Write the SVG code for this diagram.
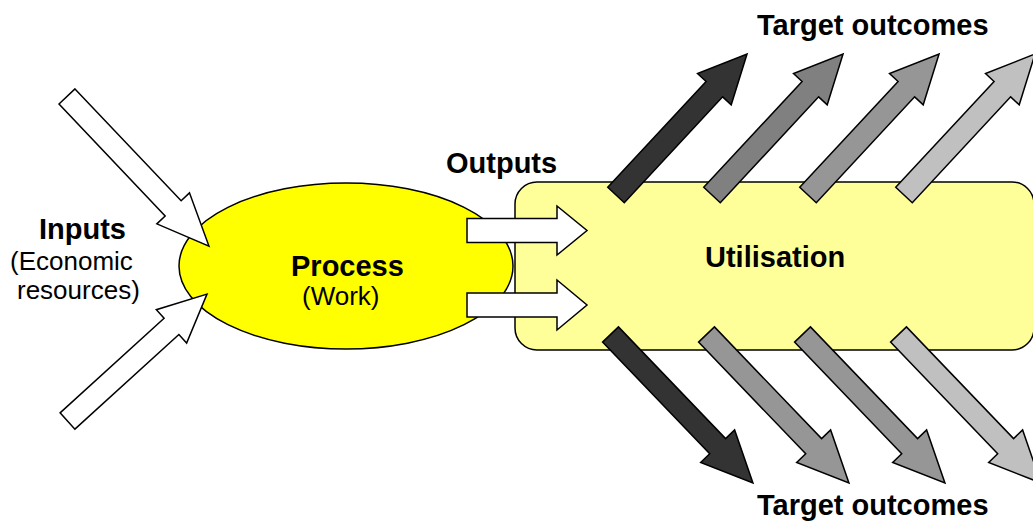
<svg xmlns="http://www.w3.org/2000/svg" width="1033" height="521" viewBox="0 0 1033 521">
<style>
.b{font-family:"Liberation Sans",Arial,sans-serif;font-weight:bold;font-size:29px;fill:#000}
.n{font-family:"Liberation Sans",Arial,sans-serif;font-size:26px;fill:#000}
.ar{stroke:#000;stroke-width:1.5;stroke-linejoin:miter}
</style>
<defs>
<polygon id="upR" points="0,-11.3 144.5,-11.3 144.5,-23 192.5,0 144.5,23 144.5,11.3 0,11.3"/>
<polygon id="dnR" points="0,-11 154.8,-11 154.8,-23.5 205.8,0 154.8,23.5 154.8,11 0,11"/>
</defs>
<rect width="1033" height="521" fill="#fff"/>
<g id="utilisation">
<rect x="515" y="182" width="519" height="168" rx="22" ry="22" fill="#ffff99" stroke="#000" stroke-width="1.5"/>
<text class="b" x="705" y="267">Utilisation</text>
</g>
<g id="process">
<ellipse cx="346" cy="266" rx="167" ry="83" fill="#ffff00" stroke="#000" stroke-width="1.5"/>
<text class="b" x="291" y="276">Process</text>
<text class="n" x="302" y="305">(Work)</text>
</g>
<g id="inputs">
<text class="b" x="39" y="239">Inputs</text>
<text class="n" x="10" y="270">(Economic</text>
<text class="n" x="17" y="299">resources)</text>
</g>
<g id="outputs-label">
<text class="b" x="446" y="173">Outputs</text>
</g>
<g id="target-top">
<text class="b" x="757" y="35">Target outcomes</text>
</g>
<g id="target-bottom">
<text class="b" x="757" y="515">Target outcomes</text>
</g>
<g id="connectors">
<polygon class="ar" fill="#fff" transform="translate(67,96.5) rotate(46.5)" points="0,-11 154.2,-11 154.2,-22.5 206.2,0 154.2,22.5 154.2,11 0,11"/>
<polygon class="ar" fill="#fff" transform="translate(67.5,421) rotate(-42.3)" points="0,-11 140.6,-11 140.6,-22.5 188.6,0 140.6,22.5 140.6,11 0,11"/>
<polygon class="ar" fill="#fff" points="467,218.5 557,218.5 557,206 587,230.5 557,255 557,242.5 467,242.5"/>
<polygon class="ar" fill="#fff" points="467,293 557,293 557,280 587,305 557,330 557,317 467,317"/>
<use href="#upR" class="ar" fill="#333333" transform="translate(616,195) rotate(-47.1)"/>
<use href="#upR" class="ar" fill="#808080" transform="translate(712,195) rotate(-47.1)"/>
<use href="#upR" class="ar" fill="#969696" transform="translate(808,195) rotate(-47.1)"/>
<use href="#upR" class="ar" fill="#c0c0c0" transform="translate(904,195) rotate(-47.1)"/>
<use href="#dnR" class="ar" fill="#333333" transform="translate(610.5,334.5) rotate(46.2)"/>
<use href="#dnR" class="ar" fill="#969696" transform="translate(706.5,334.5) rotate(46.2)"/>
<use href="#dnR" class="ar" fill="#969696" transform="translate(802.5,334.5) rotate(46.2)"/>
<use href="#dnR" class="ar" fill="#c0c0c0" transform="translate(898.5,334.5) rotate(46.2)"/>
</g>
</svg>
